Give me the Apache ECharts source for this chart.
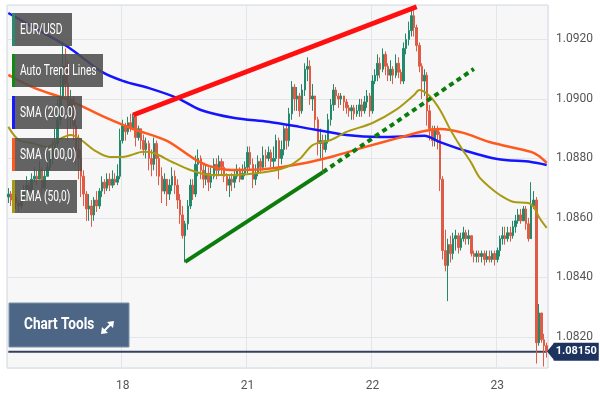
<!DOCTYPE html>
<html><head><meta charset="utf-8">
<script src="https://cdn.jsdelivr.net/npm/echarts@6/dist/echarts.min.js"></script>
<style>html,body{margin:0;padding:0;background:#fff}#c{width:600px;height:400px}</style>
</head><body><div id="c"></div>
<script>
// Half-hour sessions: [day, first half-hour slot, number of candles]
const sessions = [['17', 4, 44], ['18', 0, 48], ['21', 0, 48], ['22', 0, 48], ['23', 0, 20]];
const categories = [];
sessions.forEach(([d, start, count]) => {
  for (let k = 0; k < count; k++) {
    const s = start + k;
    categories.push(d + ' ' + String(Math.floor(s / 2)).padStart(2, '0') + ':' + (s % 2 ? '30' : '00'));
  }
});

const firstOpen = 1.0867;
const close = [
1.0868,1.0866,1.0867,1.0865,1.0864,1.0867,1.0869,1.0871,1.0869,1.0873,
1.0874,1.0873,1.0876,1.0870,1.0874,1.0877,1.0880,1.0883,1.0885,1.0893,
1.0901,1.0911,1.0905,1.0896,1.0900,1.0891,1.0883,1.0880,1.0874,1.0868,
1.0863,1.0864,1.0861,1.0866,1.0864,1.0869,1.0872,1.0870,1.0873,1.0871,
1.0873,1.0872,1.0874,1.0886,1.0891,1.0889,1.0892,1.0890,1.0894,1.0887,
1.0890,1.0886,1.0883,1.0885,1.0880,1.0878,1.0885,1.0880,1.0874,1.0869,
1.0873,1.0868,1.0871,1.0874,1.0871,1.0866,1.0861,1.0854,1.0858,1.0864,
1.0871,1.0868,1.0878,1.0880,1.0876,1.0873,1.0875,1.0872,1.0874,1.0878,
1.0876,1.0879,1.0877,1.0874,1.0871,1.0873,1.0872,1.0874,1.0876,1.0873,
1.0875,1.0877,1.0882,1.0878,1.0873,1.0875,1.0879,1.0877,1.0881,1.0880,
1.0882,1.0879,1.0880,1.0886,1.0880,1.0883,1.0890,1.0886,1.0895,1.0904,
1.0900,1.0901,1.0896,1.0903,1.0910,1.0911,1.0900,1.0901,1.0893,1.0885,
1.0886,1.0883,1.0886,1.0893,1.0898,1.0903,1.0901,1.0900,1.0901,1.0899,
1.0897,1.0896,1.0897,1.0895,1.0896,1.0898,1.0896,1.0899,1.0901,1.0896,
1.0906,1.0908,1.0912,1.0910,1.0915,1.0911,1.0908,1.0910,1.0908,1.0912,
1.0909,1.0906,1.0917,1.0920,1.0923,1.0928,1.0924,1.0918,1.0911,1.0906,
1.0908,1.0896,1.0890,1.0886,1.0890,1.0888,1.0873,1.0849,1.0844,1.0851,
1.0848,1.0853,1.0854,1.0850,1.0853,1.0855,1.0853,1.0854,1.0848,1.0847,
1.0848,1.0847,1.0848,1.0846,1.0847,1.0846,1.0848,1.0846,1.0849,1.0853,
1.0854,1.0853,1.0855,1.0854,1.0857,1.0859,1.0861,1.0859,1.0863,1.0858,
1.0853,1.0864,1.0866,1.0818,1.0828,1.0819,1.0817,1.0815];
const high = [
1.0870,1.0869,1.0868,1.0868,1.0866,1.0868,1.0871,1.0874,1.0872,1.0875,
1.0877,1.0876,1.0879,1.0877,1.0876,1.0880,1.0882,1.0886,1.0890,1.0900,
1.0910,1.0918,1.0917,1.0913,1.0903,1.0901,1.0893,1.0888,1.0883,1.0876,
1.0869,1.0868,1.0866,1.0867,1.0869,1.0870,1.0874,1.0873,1.0875,1.0875,
1.0876,1.0875,1.0878,1.0890,1.0893,1.0892,1.0894,1.0895,1.0895,1.0895,
1.0891,1.0890,1.0888,1.0887,1.0886,1.0883,1.0887,1.0886,1.0881,1.0877,
1.0875,1.0873,1.0873,1.0877,1.0876,1.0873,1.0868,1.0864,1.0859,1.0866,
1.0873,1.0873,1.0881,1.0883,1.0881,1.0878,1.0878,1.0877,1.0877,1.0880,
1.0880,1.0881,1.0880,1.0879,1.0875,1.0874,1.0875,1.0876,1.0878,1.0877,
1.0878,1.0879,1.0884,1.0884,1.0880,1.0878,1.0881,1.0880,1.0884,1.0883,
1.0884,1.0883,1.0884,1.0888,1.0887,1.0886,1.0891,1.0891,1.0897,1.0906,
1.0905,1.0904,1.0902,1.0905,1.0912,1.0914,1.0913,1.0905,1.0901,1.0894,
1.0890,1.0888,1.0888,1.0895,1.0900,1.0905,1.0904,1.0902,1.0902,1.0901,
1.0900,1.0898,1.0898,1.0898,1.0898,1.0900,1.0900,1.0901,1.0903,1.0902,
1.0908,1.0910,1.0915,1.0914,1.0917,1.0916,1.0912,1.0913,1.0911,1.0915,
1.0914,1.0910,1.0919,1.0922,1.0926,1.0931,1.0930,1.0925,1.0919,1.0912,
1.0910,1.0909,1.0898,1.0891,1.0891,1.0891,1.0889,1.0874,1.0856,1.0853,
1.0854,1.0855,1.0856,1.0855,1.0855,1.0857,1.0856,1.0856,1.0854,1.0849,
1.0849,1.0849,1.0849,1.0849,1.0849,1.0849,1.0849,1.0849,1.0850,1.0854,
1.0857,1.0857,1.0857,1.0857,1.0859,1.0861,1.0863,1.0863,1.0864,1.0864,
1.0860,1.0872,1.0869,1.0867,1.0831,1.0828,1.0821,1.0818];
const low = [
1.0865,1.0864,1.0864,1.0863,1.0862,1.0863,1.0866,1.0868,1.0867,1.0868,
1.0872,1.0871,1.0873,1.0868,1.0869,1.0874,1.0876,1.0878,1.0881,1.0884,
1.0891,1.0900,1.0901,1.0886,1.0890,1.0886,1.0878,1.0873,1.0867,1.0864,
1.0859,1.0859,1.0857,1.0859,1.0862,1.0863,1.0867,1.0868,1.0869,1.0869,
1.0870,1.0871,1.0871,1.0873,1.0885,1.0886,1.0888,1.0889,1.0890,1.0884,
1.0886,1.0883,1.0881,1.0880,1.0876,1.0874,1.0876,1.0874,1.0871,1.0865,
1.0868,1.0864,1.0866,1.0869,1.0868,1.0863,1.0858,1.0853,1.0845,1.0856,
1.0863,1.0866,1.0867,1.0874,1.0873,1.0870,1.0871,1.0869,1.0870,1.0873,
1.0873,1.0874,1.0874,1.0872,1.0869,1.0867,1.0869,1.0870,1.0873,1.0872,
1.0873,1.0874,1.0875,1.0876,1.0870,1.0871,1.0874,1.0875,1.0876,1.0877,
1.0879,1.0877,1.0877,1.0879,1.0873,1.0878,1.0881,1.0883,1.0884,1.0893,
1.0896,1.0896,1.0894,1.0895,1.0901,1.0906,1.0898,1.0896,1.0890,1.0881,
1.0880,1.0876,1.0882,1.0885,1.0891,1.0896,1.0898,1.0897,1.0898,1.0896,
1.0895,1.0894,1.0893,1.0893,1.0894,1.0894,1.0894,1.0895,1.0897,1.0894,
1.0895,1.0905,1.0906,1.0907,1.0909,1.0908,1.0906,1.0906,1.0905,1.0907,
1.0907,1.0905,1.0905,1.0915,1.0918,1.0921,1.0921,1.0916,1.0909,1.0900,
1.0901,1.0891,1.0886,1.0884,1.0884,1.0883,1.0869,1.0846,1.0842,1.0832,
1.0845,1.0846,1.0849,1.0848,1.0849,1.0852,1.0851,1.0851,1.0847,1.0845,
1.0845,1.0845,1.0845,1.0844,1.0845,1.0845,1.0845,1.0844,1.0845,1.0847,
1.0851,1.0851,1.0852,1.0852,1.0853,1.0855,1.0858,1.0858,1.0859,1.0856,
1.0852,1.0853,1.0863,1.0811,1.0817,1.0818,1.0810,1.0813];

const sma200 = [
['17 02:00',1.09289],['17 08:30',1.09225],['17 13:30',1.09175],['17 20:00',1.09091],
['18 00:00',1.09061],['18 05:30',1.09034],['18 10:30',1.09003],['18 15:00',1.08963],
['18 21:30',1.08936],['21 04:00',1.08923],['21 10:00',1.08906],['21 19:00',1.08879],
['22 01:30',1.08872],['22 10:00',1.08876],['22 13:00',1.08855],['22 17:30',1.08828],
['23 00:00',1.08798],['23 06:30',1.08788],['23 09:30',1.08778]];
const sma100 = [
['17 02:00',1.09081],['17 07:00',1.09037],['17 13:30',1.08997],['17 20:00',1.08943],
['18 02:00',1.08899],['18 08:30',1.08859],['18 13:30',1.08801],['18 16:30',1.08775],
['18 21:00',1.08761],['21 03:30',1.08764],['21 10:00',1.08781],['21 16:00',1.08805],
['21 22:30',1.08838],['22 05:00',1.08869],['22 10:00',1.08892],['22 13:00',1.08899],
['22 17:30',1.08886],['22 22:30',1.08855],['23 06:30',1.08822],['23 08:00',1.08808],
['23 09:30',1.08785]];
const ema50 = [
['17 02:00',1.08906],['17 04:00',1.08862],['17 06:30',1.08852],['17 09:30',1.08838],
['17 11:30',1.08862],['17 14:00',1.08879],['17 16:00',1.08862],['17 18:30',1.08828],
['17 21:30',1.08805],['18 00:00',1.08805],['18 04:00',1.08822],['18 06:00',1.08818],
['18 09:30',1.08788],['18 13:00',1.08761],['18 17:00',1.08744],['18 21:00',1.08744],
['21 03:30',1.08754],['21 07:30',1.08771],['21 10:00',1.08798],['21 12:30',1.08845],
['21 16:00',1.08862],['21 19:00',1.08889],['22 00:00',1.08919],['22 04:30',1.08963],
['22 08:00',1.09013],['22 09:00',1.09030],['22 11:00',1.09010],['22 13:00',1.08963],
['22 15:00',1.08896],['22 17:00',1.08838],['22 19:00',1.08785],['22 20:30',1.08738],
['22 22:30',1.08704],['23 00:30',1.08677],['23 03:00',1.08654],['23 06:00',1.08650],
['23 07:00',1.08637],['23 08:00',1.08603],['23 09:30',1.08566]];
const resistanceLine = [['18 02:00',1.08946],['22 08:30',1.09310]];
const supportLine = [['18 12:00',1.08452],['21 14:30',1.08754]];
const supportProjection = [['21 14:30',1.08754],['22 19:30',1.09101]];
const lastPrice = 1.0815;
const yTickLabels = ['1.0820','1.0840','1.0860','1.0880','1.0900','1.0920'];

const candles = close.map((c, i) => [i === 0 ? firstOpen : close[i - 1], c, low[i], high[i]]);
const lastPriceLine = [[categories[0], lastPrice], [categories[categories.length - 1], lastPrice]];

const FONT = "Roboto,'Liberation Sans',sans-serif";
const isDayStart = (idx, v) => typeof v === 'string' && v.endsWith(' 00:00');

const legendItems = [
  {text: 'EUR/USD', y: 13, w: 60, bar: '#2b8a6e'},
  {text: 'Auto Trend Lines', y: 54, w: 91, bar: '#128a12'},
  {text: 'SMA (200,0)', y: 96, w: 70, bar: '#1a1aff'},
  {text: 'SMA (100,0)', y: 138, w: 70, bar: '#ff5a1e'},
  {text: 'EMA (50,0)', y: 180, w: 65, bar: '#a89a12'}
];
const graphics = [];
legendItems.forEach(b => {
  graphics.push({type: 'rect', z: 100, shape: {x: 12, y: b.y, width: b.w, height: 33}, style: {fill: 'rgba(78,78,78,0.88)'}});
  graphics.push({type: 'rect', z: 101, shape: {x: 12, y: b.y, width: 3, height: 33}, style: {fill: b.bar}});
  graphics.push({type: 'text', z: 102, x: 20, y: b.y + 17, scaleX: 0.73, style: {text: b.text, fill: '#fff', font: '14px ' + FONT, verticalAlign: 'middle', align: 'left'}});
});
graphics.push({type: 'rect', z: 100, shape: {x: 9, y: 303, width: 120, height: 44}, style: {fill: '#4e6686', stroke: '#7d90aa', lineWidth: 1}});
graphics.push({type: 'text', z: 102, x: 24, y: 325, scaleX: 0.8, style: {text: 'Chart Tools', fill: '#fff', font: 'bold 17px ' + FONT, verticalAlign: 'middle', align: 'left'}});
graphics.push({type: 'line', z: 102, shape: {x1: 103, y1: 332, x2: 112, y2: 323}, style: {stroke: '#fff', lineWidth: 2}});
graphics.push({type: 'polygon', z: 102, shape: {points: [[114, 321], [107, 322], [113, 328]]}, style: {fill: '#fff'}});
graphics.push({type: 'polygon', z: 102, shape: {points: [[101, 334], [102, 327], [108, 333]]}, style: {fill: '#fff'}});
graphics.push({type: 'polygon', z: 102, shape: {points: [[547, 351.5], [554, 343], [554, 360]]}, style: {fill: '#1c3360'}});

const chart = echarts.init(document.getElementById('c'), null, {renderer: 'canvas'});
chart.setOption({
  animation: false,
  backgroundColor: '#ffffff',
  grid: {left: 7, right: 52, top: 5, bottom: 32, show: true, backgroundColor: '#f7f7f7', borderColor: '#cfd8e2', borderWidth: 1},
  xAxis: {
    type: 'category', data: categories, boundaryGap: true,
    axisLine: {show: false}, axisTick: {show: false},
    axisLabel: {interval: isDayStart, formatter: v => v.slice(0, 2), color: '#555', fontSize: 12, fontFamily: FONT, margin: 12},
    splitLine: {show: true, interval: isDayStart, lineStyle: {color: '#e2e5e9', width: 1}}
  },
  yAxis: {
    type: 'value', position: 'right', scale: true,
    min: 1.08095, max: 1.09316, splitNumber: 6, minInterval: 0.002, maxInterval: 0.002,
    axisLine: {show: false}, axisTick: {show: false},
    axisLabel: {showMinLabel: false, showMaxLabel: false, color: '#555', fontSize: 12, fontFamily: FONT, margin: 8,
      formatter: v => { const s = v.toFixed(4); return yTickLabels.includes(s) ? s : ''; }},
    splitLine: {show: true, lineStyle: {color: '#e2e5e9', width: 1}}
  },
  series: [
    {type: 'line', name: 'Last price', data: lastPriceLine, symbol: 'none', z: 1, clip: false,
     lineStyle: {color: '#34405e', width: 2},
     endLabel: {show: true, distance: 7, formatter: () => lastPrice.toFixed(5), color: '#fff', fontWeight: 'bold',
       fontSize: 11, fontFamily: FONT, backgroundColor: '#1c3360', padding: [4, 2, 3, 2]}},
    {type: 'candlestick', name: 'EUR/USD', data: candles, barWidth: 2, z: 2,
     itemStyle: {color: '#22896b', color0: '#df5b45', borderColor: '#22896b', borderColor0: '#df5b45', borderWidth: 1}},
    {type: 'line', name: 'SMA (200,0)', data: sma200, smooth: 0.3, symbol: 'none', z: 3, lineStyle: {color: '#1414ff', width: 2.5}},
    {type: 'line', name: 'SMA (100,0)', data: sma100, smooth: 0.3, symbol: 'none', z: 3, lineStyle: {color: '#ff5a1e', width: 2.5}},
    {type: 'line', name: 'EMA (50,0)', data: ema50, smooth: 0.3, symbol: 'none', z: 3, lineStyle: {color: '#a89a12', width: 2}},
    {type: 'line', name: 'Resistance', data: resistanceLine, symbol: 'none', z: 4, lineStyle: {color: '#ff1010', width: 5}},
    {type: 'line', name: 'Support', data: supportLine, symbol: 'none', z: 4, lineStyle: {color: '#0c7d0c', width: 4}},
    {type: 'line', name: 'Support projection', data: supportProjection, symbol: 'none', z: 4, lineStyle: {color: '#0c7d0c', width: 4, type: [5, 4]}}
  ],
  graphic: graphics
});
</script></body></html>
